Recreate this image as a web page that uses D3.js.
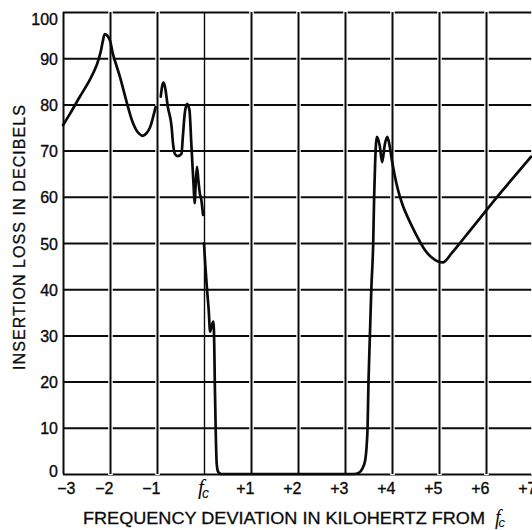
<!DOCTYPE html>
<html><head><meta charset="utf-8">
<script src="https://cdn.jsdelivr.net/npm/d3@7"></script>
<style>html,body{margin:0;padding:0;background:#fff;} svg{display:block;}</style>
</head><body>
<svg id="chart" width="532" height="530"></svg>
<script>
// ---- data ----
const xTicks = [-3, -2, -1, 0, 1, 2, 3, 4, 5, 6, 7];
const xTickLabels = ["\u22123", "\u22122", "\u22121", "fc", "+1", "+2", "+3", "+4", "+5", "+6", "+7"];
const yTicks = [0, 10, 20, 30, 40, 50, 60, 70, 80, 90, 100];
const yTickLabels = ["0", "10", "20", "30", "40", "50", "60", "70", "80", "90", "100"];

// curve piece 1: low side, far from cut-off
const seg1Freq = [-3, -2.85, -2.64, -2.43, -2.28, -2.20, -2.15, -2.11, -2.06, -2.00, -1.94, -1.79, -1.64, -1.52, -1.41, -1.30, -1.22, -1.15, -1.09, -1.03];
const seg1Loss = [75.5, 78.0, 81.7, 85.3, 88.6, 91.3, 93.8, 95.2, 94.9, 93.8, 91.0, 86.0, 80.3, 76.2, 74.0, 73.2, 73.8, 75.0, 77.0, 79.4];

// curve piece 2: ripples just below f_c
const seg2Freq = [-0.92, -0.89, -0.86, -0.83, -0.77, -0.69, -0.66, -0.62, -0.56, -0.48, -0.45, -0.41, -0.36, -0.31, -0.27, -0.24, -0.22, -0.20, -0.175, -0.15, -0.12, -0.09, -0.06, -0.02];
const seg2Loss = [81.7, 84.0, 84.7, 83.8, 79.5, 75.2, 71.6, 69.3, 68.8, 69.3, 73.0, 78.0, 80.1, 78.8, 71.6, 65.8, 62.2, 58.6, 63.0, 66.5, 63.6, 60.8, 59.5, 56.1];

// curve piece 3: pass band and upper stop band
const seg3Freq = [0.0, 0.03, 0.06, 0.10, 0.13, 0.16, 0.20, 0.22, 0.23, 0.25, 0.27, 0.30, 0.37, 1.0, 2.0, 3.0, 3.19, 3.30, 3.36, 3.43, 3.46, 3.48, 3.50, 3.53, 3.56, 3.60, 3.62, 3.64, 3.66, 3.68, 3.74, 3.79, 3.85, 3.90, 3.95, 4.00, 4.06, 4.13, 4.22, 4.36, 4.50, 4.70, 4.84, 4.98, 5.08, 5.27, 5.55, 6.33, 6.96];
const seg3Loss = [49.9, 44.9, 40.5, 35.5, 30.8, 31.9, 33.0, 26.8, 19.6, 8.9, 2.3, 0.5, 0, 0, 0, 0, 0, 0.3, 1.0, 3.0, 6.0, 10, 20, 30, 40, 50, 60, 67, 71.5, 73.0, 71.0, 67.5, 71.5, 73.0, 71.0, 67.8, 64.5, 61.4, 58.4, 55.0, 52.1, 48.5, 46.9, 46.0, 45.8, 47.8, 51.3, 61.1, 68.7];

// ---- drawing ----
const svg = d3.select("#chart");
svg.append("rect").attr("width", 532).attr("height", 530).attr("fill", "#fff");

const x = d3.scaleLinear().domain([-3, 7]).range([63, 533]);
const y = d3.scaleLinear().domain([0, 100]).range([474, 12]);
const ink = "#0b0b0b";
const tickFont = "'Liberation Sans', Arial, Helvetica, sans-serif";

// horizontal grid + y labels
const yAxis = d3.axisLeft(y).tickValues(yTicks)
  .tickSize(-(533 - 63)).tickPadding(5)
  .tickFormat((d, i) => yTickLabels[i]);
const gy = svg.append("g").attr("transform", "translate(63,0)").call(yAxis);
gy.select(".domain").remove();
gy.selectAll(".tick line").attr("stroke", ink).attr("stroke-width", 2);
gy.selectAll(".tick text")
  .attr("fill", ink).attr("stroke", ink).attr("stroke-width", 0.35)
  .attr("font-family", tickFont).attr("font-size", 16)
  .attr("dy", null)
  .attr("y", d => d === 100 ? 12 : (d === 0 ? 2 : 6));

// vertical grid + x labels
const xAxis = d3.axisBottom(x).tickValues(xTicks)
  .tickSize(-(474 - 12)).tickPadding(8)
  .tickFormat((d, i) => xTickLabels[i]);
const gx = svg.append("g").attr("transform", "translate(0,474)").call(xAxis);
gx.select(".domain").remove();
// small white breaks in the horizontal rules where they meet the verticals
gx.selectAll(".tick").filter(d => d !== 0 && d !== -3)
  .insert("line", "line").attr("y1", 1).attr("y2", -463)
  .attr("stroke", "#fff").attr("stroke-width", 4.5);
gx.selectAll(".tick line").filter(function () { return this.getAttribute("stroke") !== "#fff"; })
  .attr("stroke", ink)
  .attr("stroke-width", d => d === 0 ? 1.4 : 2);
gx.selectAll(".tick text")
  .attr("fill", ink).attr("stroke", ink).attr("stroke-width", 0.35)
  .attr("font-family", tickFont).attr("font-size", 16)
  .attr("dy", null).attr("y", 20)
  .attr("text-anchor", "end")
  .attr("x", d => d === -3 ? 12 : 3);
// f_c label with subscript
gx.selectAll(".tick text").filter(d => d === 0).each(function () {
  const t = d3.select(this).text("").attr("text-anchor", "middle").attr("x", -1).attr("stroke", null);
  t.append("tspan").attr("font-family", "'Liberation Serif', serif").attr("font-style", "italic")
    .attr("font-size", 21).text("f");
  t.append("tspan").attr("font-family", "'Liberation Sans', sans-serif").attr("font-style", "italic")
    .attr("font-size", 14).attr("dy", 4).attr("dx", -2).text("c");
});

// curve
const lineSmooth = d3.line().x(d => x(d[0])).y(d => y(d[1])).curve(d3.curveCatmullRom.alpha(0.5));
const lineMono = d3.line().x(d => x(d[0])).y(d => y(d[1])).curve(d3.curveMonotoneX);
const pieces = [
  {pts: d3.zip(seg1Freq, seg1Loss), gen: lineSmooth},
  {pts: d3.zip(seg2Freq, seg2Loss), gen: lineMono},
  {pts: d3.zip(seg3Freq, seg3Loss), gen: lineMono}
];
svg.append("g").selectAll("path").data(pieces).join("path")
  .attr("d", p => p.gen(p.pts)).attr("fill", "none").attr("stroke", ink)
  .attr("stroke-width", 2.7).attr("stroke-linejoin", "round").attr("stroke-linecap", "round");

// axis titles
const xt = svg.append("text").attr("y", 524).attr("fill", ink)
  .attr("font-family", tickFont).attr("font-size", 17);
xt.append("tspan").attr("x", 83).attr("textLength", 402).attr("lengthAdjust", "spacingAndGlyphs")
  .attr("stroke", ink).attr("stroke-width", 0.3)
  .text("FREQUENCY DEVIATION IN KILOHERTZ FROM");
xt.append("tspan").attr("x", 495).attr("font-family", "'Liberation Serif', serif")
  .attr("font-style", "italic").attr("font-size", 20).text("f");
xt.append("tspan").attr("dy", 3).attr("dx", -2).attr("font-style", "italic")
  .attr("font-size", 13).text("c");

svg.append("text")
  .attr("transform", "translate(25,237.5) rotate(-90)")
  .attr("text-anchor", "middle").attr("fill", ink).attr("stroke", ink).attr("stroke-width", 0.3)
  .attr("font-family", tickFont).attr("font-size", 16)
  .attr("textLength", 265).attr("lengthAdjust", "spacing")
  .text("INSERTION LOSS IN DECIBELS");
</script>
</body></html>
